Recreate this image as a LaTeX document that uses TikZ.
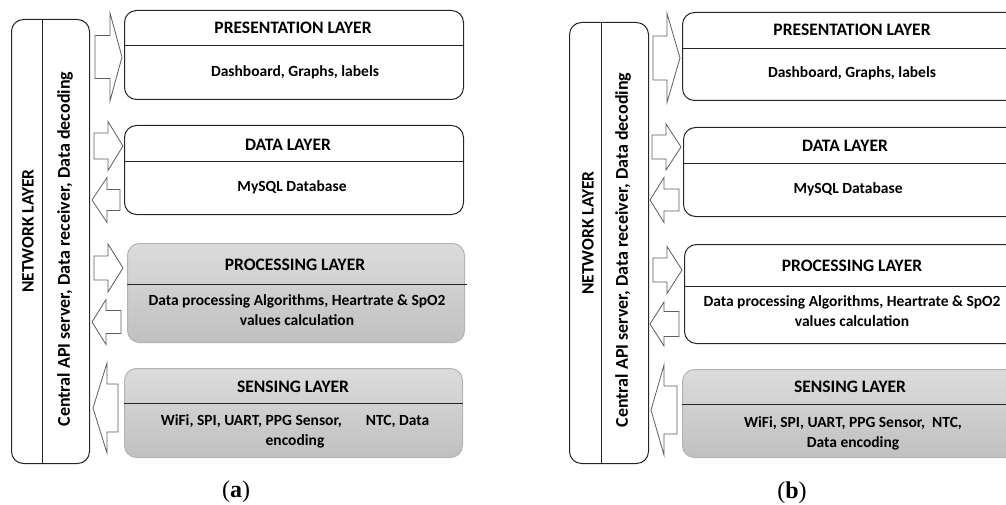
\documentclass[tikz,border=0pt]{standalone}
\usepackage{fontspec}
\setmainfont{Carlito}
\newfontfamily\capfont{Liberation Serif}
\definecolor{grtop}{HTML}{DCDCDC}
\definecolor{grbot}{HTML}{C0C0C0}
\definecolor{groutline}{HTML}{B4B4B4}
\definecolor{arrline}{HTML}{5E5E5E}
\newcommand{\blockarr}[6]{\draw[blockarrow] (#1,{#4-#5}) -- (#2,{#4-#5}) -- (#2,{#4-#6}) -- (#3,#4) -- (#2,{#4+#6}) -- (#2,{#4+#5}) -- (#1,{#4+#5}) -- cycle;}
\begin{document}
\begin{tikzpicture}[x=1pt,y=-1pt,
  netbox/.style={draw=black!85, line width=1pt, rounded corners=12pt, anchor=north west, inner sep=0pt},
  whitebox/.style={draw=black!85, line width=1pt, rounded corners=12pt, fill=white, anchor=north west, inner sep=0pt},
  graybox/.style={draw=groutline, line width=1pt, rounded corners=12pt, top color=grtop, bottom color=grbot, anchor=north west, inner sep=0pt},
  divider/.style={draw=black!85, line width=0.9pt},
  ttl/.style={font=\bfseries\fontsize{17.5}{21}\selectfont, inner sep=0pt},
  bdy/.style={font=\bfseries\fontsize{15.5}{20}\selectfont, align=center, inner sep=0pt},
  vbdy/.style={font=\bfseries\fontsize{18}{22}\selectfont, inner sep=0pt, rotate=90},
  captext/.style={font=\capfont\fontsize{24}{28}\selectfont, inner sep=0pt},
  blockarrow/.style={draw=arrline, line width=0.8pt, fill=white, line join=miter},
]
\useasboundingbox (0,0) rectangle (1006,505);
\clip (0,0) rectangle (1006,505);

%================ (a) =================
\node[netbox, minimum width=78pt, minimum height=444pt] (aNet) at (11,19) {};
\draw[divider] ([xshift=31pt]aNet.north west) -- ([xshift=31pt]aNet.south west);
\node[ttl, rotate=90] (aNetT) at (28,231) {NETWORK LAYER};
\node[vbdy] (aNetB) at (65,249) {Central API server, Data receiver, Data decoding};

\blockarr{95}{110}{122}{57}{21.5}{44}
\blockarr{94}{108}{123}{146}{13}{24.5}
\blockarr{120}{107}{92}{200}{10.5}{22.5}
\blockarr{94}{108}{123}{268}{12}{24}
\blockarr{121}{106}{92}{322}{11.5}{22.5}
\blockarr{118}{107}{93}{408}{24}{45}

\node[whitebox, minimum width=339pt, minimum height=89pt] (aPres) at (124,10) {};
\draw[divider] (aPres.west |- 0,45) -- (aPres.east |- 0,45);
\node[ttl] (aPresT) at (293,28) {PRESENTATION LAYER};
\node[bdy] (aPresB) at (295,72) {Dashboard, Graphs, labels};

\node[whitebox, minimum width=339pt, minimum height=89pt] (aData) at (124,125) {};
\draw[divider] (aData.west |- 0,161) -- (aData.east |- 0,161);
\node[ttl] (aDataT) at (288,145) {DATA LAYER};
\node[bdy] (aDataB) at (292,187) {MySQL Database};

\node[graybox, minimum width=337pt, minimum height=99pt] (aProc) at (127,243) {};
\draw[divider] (aProc.west |- 0,284) -- ([xshift=2pt]aProc.east |- 0,284);
\node[ttl] (aProcT) at (295,265) {PROCESSING LAYER};
\node[bdy] (aProcB) at (297,310) {Data processing Algorithms, Heartrate \& SpO2\\values calculation};

\node[graybox, minimum width=338pt, minimum height=89pt] (aSens) at (124,368) {};
\draw[divider] (aSens.west |- 0,403) -- (aSens.east |- 0,403);
\node[ttl] (aSensT) at (293,387) {SENSING LAYER};
\node[bdy] (aSensB) at (295,431) {WiFi, SPI, UART, PPG Sensor,\hspace{24pt}NTC, Data\\encoding};

\node[captext] (capA) at (236,492) {(\textbf{a})};

%================ (b) =================
\node[netbox, minimum width=79pt, minimum height=441pt] (bNet) at (569,22) {};
\draw[divider] ([xshift=32pt]bNet.north west) -- ([xshift=32pt]bNet.south west);
\node[ttl, rotate=90] (bNetT) at (588,233) {NETWORK LAYER};
\node[vbdy] (bNetB) at (623,250) {Central API server, Data receiver, Data decoding};

\blockarr{653}{667}{680}{58}{22}{44.5}
\blockarr{652}{666}{681}{147}{12}{23}
\blockarr{679}{664}{650}{200}{11}{22.5}
\blockarr{653}{667}{682}{270}{12}{23.5}
\blockarr{679}{664}{650}{324}{12.5}{22}
\blockarr{677}{664}{651}{410}{24}{45}

\node[whitebox, minimum width=345pt, minimum height=88pt] (bPres) at (682,12) {};
\draw[divider] (bPres.west |- 0,48) -- (bPres.east |- 0,48);
\node[ttl] (bPresT) at (852,30) {PRESENTATION LAYER};
\node[bdy] (bPresB) at (852,73) {Dashboard, Graphs, labels};

\node[whitebox, minimum width=345pt, minimum height=89pt] (bData) at (683,127) {};
\draw[divider] (bData.west |- 0,163) -- (bData.east |- 0,163);
\node[ttl] (bDataT) at (845,146) {DATA LAYER};
\node[bdy] (bDataB) at (848,189) {MySQL Database};

\node[whitebox, minimum width=345pt, minimum height=99pt] (bProc) at (684,244) {};
\draw[divider] (bProc.west |- 0,286) -- (bProc.east |- 0,286);
\node[ttl] (bProcT) at (852,266) {PROCESSING LAYER};
\node[bdy] (bProcB) at (852,311.5) {Data processing Algorithms, Heartrate \& SpO2\\values calculation};

\node[graybox, minimum width=345pt, minimum height=88pt] (bSens) at (682,369) {};
\draw[divider] (bSens.west |- 0,404) -- (bSens.east |- 0,404);
\node[ttl] (bSensT) at (850,387) {SENSING LAYER};
\node[bdy] (bSensB) at (853,433) {WiFi, SPI, UART, PPG Sensor,\ \ NTC,\\Data encoding};

\node[captext] (capB) at (792,493) {(\textbf{b})};
\end{tikzpicture}
\end{document}
